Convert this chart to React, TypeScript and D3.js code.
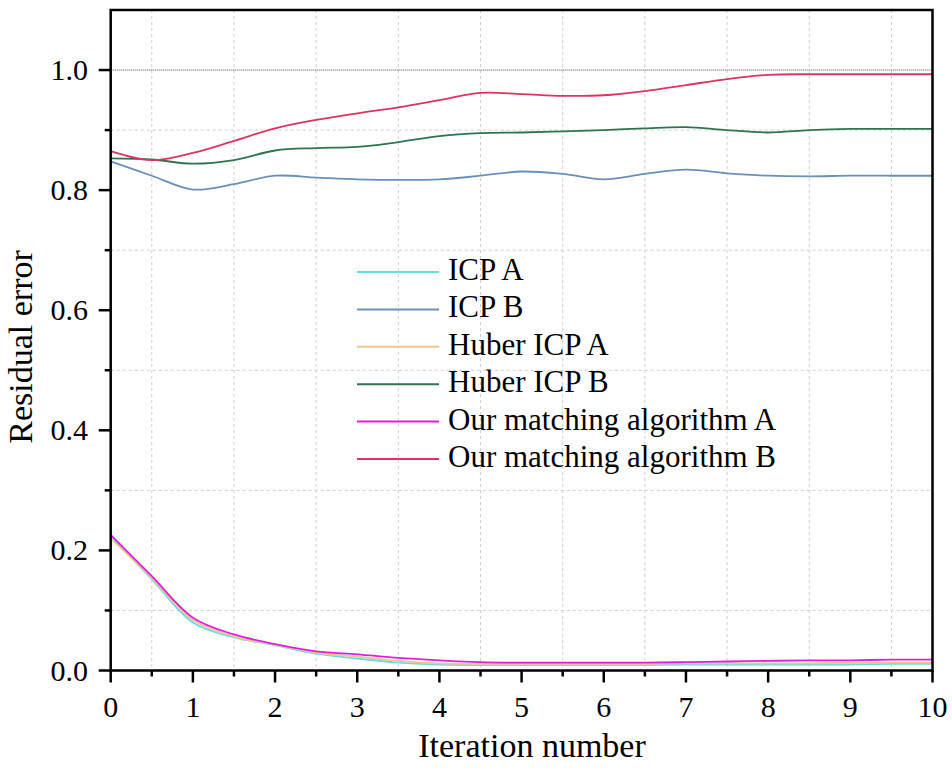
import React from "react";
import * as d3 from "d3";

// Iteration positions (half-step sampling)
const iterations = [0, 0.5, 1, 1.5, 2, 2.5, 3, 3.5, 4, 4.5, 5, 5.5, 6, 6.5, 7, 7.5, 8, 8.5, 9, 9.5, 10];

const icpA = [0.224, 0.152, 0.080, 0.055, 0.042, 0.028, 0.020, 0.013, 0.010, 0.009, 0.009, 0.009, 0.009, 0.009, 0.010, 0.010, 0.010, 0.010, 0.010, 0.011, 0.011];
const icpB = [0.848, 0.824, 0.801, 0.810, 0.824, 0.821, 0.818, 0.817, 0.818, 0.824, 0.831, 0.827, 0.818, 0.827, 0.834, 0.828, 0.824, 0.823, 0.824, 0.824, 0.824];
const huberA = [0.220, 0.154, 0.084, 0.057, 0.043, 0.030, 0.023, 0.016, 0.012, 0.011, 0.011, 0.011, 0.011, 0.011, 0.012, 0.012, 0.012, 0.012, 0.013, 0.013, 0.013];
const huberB = [0.853, 0.851, 0.844, 0.850, 0.866, 0.870, 0.872, 0.880, 0.890, 0.895, 0.896, 0.898, 0.900, 0.903, 0.905, 0.900, 0.896, 0.900, 0.902, 0.902, 0.902];
const oursA = [0.226, 0.157, 0.088, 0.060, 0.044, 0.032, 0.027, 0.021, 0.017, 0.014, 0.013, 0.013, 0.013, 0.013, 0.014, 0.015, 0.016, 0.017, 0.017, 0.018, 0.018];
const oursB = [0.865, 0.850, 0.862, 0.882, 0.903, 0.917, 0.928, 0.938, 0.950, 0.962, 0.960, 0.957, 0.958, 0.965, 0.975, 0.985, 0.992, 0.993, 0.993, 0.993, 0.993];

const seriesNames = ["ICP A", "ICP B", "Huber ICP A", "Huber ICP B", "Our matching algorithm A", "Our matching algorithm B"];
const seriesValues = [icpA, icpB, huberA, huberB, oursA, oursB];
const seriesColors = ["#66dde6", "#6a90b8", "#efc68c", "#2f7352", "#e01ee0", "#dc3462"];

const xTicks = [0, 1, 2, 3, 4, 5, 6, 7, 8, 9, 10];
const yTicks = [0, 0.2, 0.4, 0.6, 0.8, 1.0];
const referenceLevel = 1.0;

const W = 952;
const H = 770;
const left = 110.7;
const right = 932.5;
const top = 10;
const bottom = 670.5;

const FONT = "'Liberation Serif', 'Times New Roman', serif";

export default function App() {
  const x = d3.scaleLinear().domain([0, 10]).range([left, right]);
  const y = d3.scaleLinear().domain([0, 1.1]).range([bottom, top]);

  const line = d3
    .line<[number, number]>()
    .x((d) => x(d[0]))
    .y((d) => y(d[1]))
    .curve(d3.curveCatmullRom.alpha(0.5));

  const xMinor = d3.range(0.5, 10, 1);
  const yMinor = d3.range(0.1, 1.1, 0.2);

  return (
    <svg
      width={W}
      height={H}
      style={{ position: "absolute", left: 0, top: 0, background: "#fff" }}
    >
      {/* dashed grid on minor positions */}
      <g stroke="#cfcfcf" strokeWidth={1} strokeDasharray="3,3">
        {xMinor.map((v) => (
          <line key={"gx" + v} x1={x(v)} x2={x(v)} y1={top} y2={bottom} />
        ))}
        {yMinor.map((v) => (
          <line key={"gy" + v} x1={left} x2={right} y1={y(v)} y2={y(v)} />
        ))}
      </g>

      {/* reference level */}
      <line
        x1={left}
        x2={right}
        y1={y(referenceLevel)}
        y2={y(referenceLevel)}
        stroke="#444"
        strokeWidth={1}
        strokeDasharray="1,1"
      />

      {/* series */}
      <g fill="none" strokeWidth={1.8}>
        {seriesValues.map((vals, i) => (
          <path
            key={seriesNames[i]}
            d={line(iterations.map((it, j) => [it, vals[j]] as [number, number])) || ""}
            stroke={seriesColors[i]}
          />
        ))}
      </g>

      {/* frame */}
      <rect
        x={left}
        y={top}
        width={right - left}
        height={bottom - top}
        fill="none"
        stroke="#000"
        strokeWidth={2.5}
      />

      {/* ticks */}
      <g stroke="#000" strokeWidth={2.5}>
        {xTicks.map((t) => (
          <line key={"xt" + t} x1={x(t)} x2={x(t)} y1={bottom} y2={bottom + 12} />
        ))}
        {xMinor.map((t) => (
          <line key={"xm" + t} x1={x(t)} x2={x(t)} y1={bottom} y2={bottom + 6} />
        ))}
        {yTicks.map((t) => (
          <line key={"yt" + t} x1={left} x2={left - 12} y1={y(t)} y2={y(t)} />
        ))}
        {yMinor.map((t) => (
          <line key={"ym" + t} x1={left} x2={left - 6} y1={y(t)} y2={y(t)} />
        ))}
      </g>

      <g fontFamily={FONT} fontSize={30} fill="#000">
        {xTicks.map((t) => (
          <text key={"xl" + t} x={x(t)} y={717} textAnchor="middle">
            {t}
          </text>
        ))}
        {yTicks.map((t) => (
          <text key={"yl" + t} x={88} y={y(t) + 10} textAnchor="end">
            {t.toFixed(1)}
          </text>
        ))}
      </g>

      <text
        x={532}
        y={757}
        textAnchor="middle"
        fontFamily={FONT}
        fontSize={34}
        fill="#000"
      >
        Iteration number
      </text>
      <text
        transform="translate(32,347) rotate(-90)"
        textAnchor="middle"
        fontFamily={FONT}
        fontSize={34}
        fill="#000"
      >
        Residual error
      </text>

      {/* legend */}
      <g fontFamily={FONT} fontSize={31} fill="#000">
        {seriesNames.map((name, i) => {
          const ly = 272 + i * 37.4;
          return (
            <g key={"lg" + name}>
              <line x1={357} x2={439} y1={ly} y2={ly} stroke={seriesColors[i]} strokeWidth={2} />
              <text x={448} y={ly + 8}>
                {name}
              </text>
            </g>
          );
        })}
      </g>
    </svg>
  );
}
